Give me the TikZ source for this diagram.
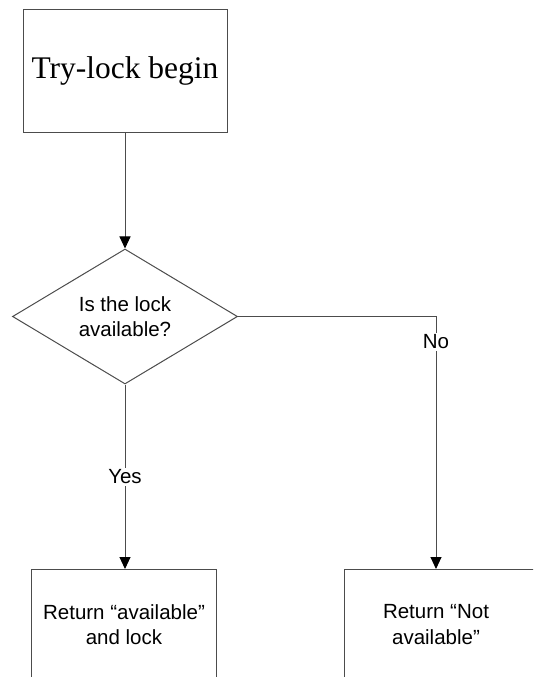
\documentclass[tikz,border=0pt]{standalone}
\usepackage{fontspec}
\setmainfont{Liberation Serif}
\setsansfont{Liberation Sans}
\usetikzlibrary{shapes.geometric,arrows.meta,positioning}

\newcommand{\chartfont}{\sffamily\fontsize{20.5}{25.5}\selectfont}

\tikzstyle{every node}+=[inner sep=0pt]
\tikzstyle{box}=[rectangle,draw=black!70,line width=1pt,align=center,font=\chartfont]
\tikzstyle{decision}=[diamond,draw=black!70,line width=1pt,aspect=1.67,minimum width=225pt,minimum height=135pt,align=center,font=\chartfont]
\tikzstyle{flow}=[draw=black!70,line width=1pt,-{Triangle[length=12pt,width=11pt,black]}]
\tikzstyle{answer}=[fill=white,inner sep=2pt,font=\chartfont]

\begin{document}
\begin{tikzpicture}[x=1pt,y=-1pt]
\useasboundingbox (0,0) rectangle (533,677);
\clip (0,0) rectangle (533,677);

\node[box,minimum width=204pt,minimum height=122pt,font=\rmfamily\fontsize{31.5}{36}\selectfont] (begin) at (125,71) {Try-lock begin};
\node[decision] (avail) at (125,316.5) {Is the lock\\available?};

\node[box,minimum width=185pt,minimum height=110pt,anchor=north] (retyes) at (124,569) {Return “available”\\and lock};
\node[box,minimum width=200pt,minimum height=110pt,anchor=north west] (retno) at (344,569) {};
\node[align=center,font=\chartfont] (retnotext) at (436,624.5) {Return “Not\\available”};

\coordinate (nocorner) at (avail.east -| retnotext);

\draw[flow] (begin) -- (avail);
\draw[flow] (avail.south) -- node[answer] (yes) {Yes} (avail.south |- retyes.north);
\draw[flow] (avail.east) -- (nocorner) -- node[answer,pos=0.1] (no) {No} (retno.north -| retnotext);
\end{tikzpicture}
\end{document}
